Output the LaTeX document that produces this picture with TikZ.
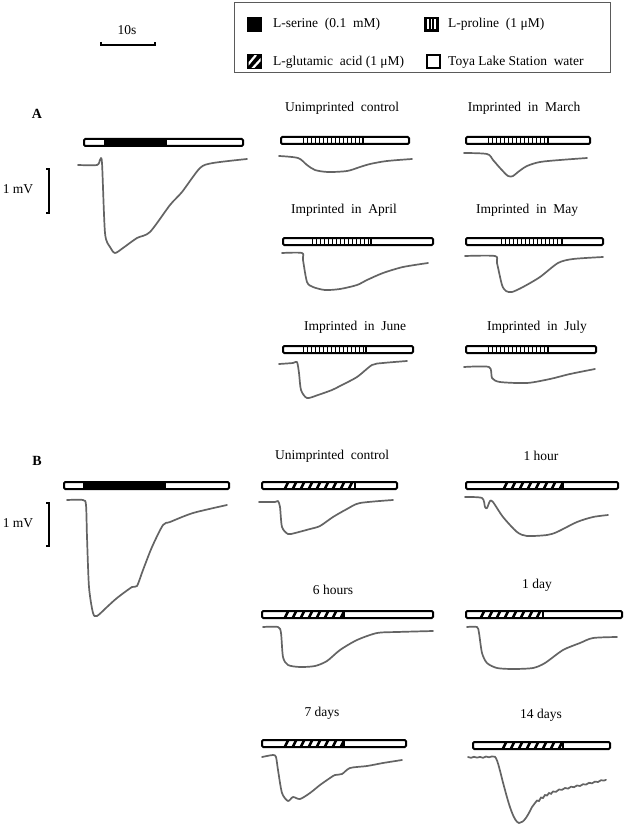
\documentclass[tikz,border=0pt]{standalone}
\usepackage{fontspec}
\setmainfont{Liberation Serif}
\usetikzlibrary{calc}
\definecolor{trace}{RGB}{100,100,100}
\definecolor{boxgray}{RGB}{90,90,90}
\tikzset{
  lbl/.style={inner sep=0pt, font=\fontsize{13.5}{15}\selectfont},
  plabel/.style={inner sep=0pt, font=\fontsize{14}{16}\selectfont\bfseries},
  tr/.style={draw=trace, line width=1.7, line join=round, line cap=round},
  barline/.style={draw=black, line width=2, rounded corners=1.2},
  scalebar/.style={draw=black, line width=1.3},
}
% \stimbar{x1}{x2}{ytop}{s1}{s2}{kind: 1 serine, 2 proline, 3 glutamic}
\newcommand{\stimbar}[6]{%
  \fill[white] (#1,#3) rectangle (#2,#3+7);
  \ifnum#6=1
    \fill[black] (#4,#3) rectangle (#5,#3+7);
  \fi
  \ifnum#6=2
    \begin{scope}
      \clip (#4,#3) rectangle (#5,#3+7);
      \foreach \i in {0,...,20} {\draw[line width=1.7] (#4+1.5+\i*4,#3+1) -- (#4+1.5+\i*4,#3+6);}
    \end{scope}
    \draw[line width=2] (#5,#3) -- (#5,#3+7);
  \fi
  \ifnum#6=3
    \begin{scope}
      \clip (#4,#3) rectangle (#5,#3+7);
      \foreach \i in {0,...,12} {\draw[line width=2.6] (#4+2+\i*8,#3+6.5) -- (#4+5+\i*8,#3+0.5);}
    \end{scope}
    \draw[line width=1.5] (#5,#3) -- (#5,#3+7);
  \fi
  \draw[barline] (#1,#3) rectangle (#2,#3+7);
}
\begin{document}
\begin{tikzpicture}[x=1pt,y=-1pt]
\useasboundingbox (0,0) rectangle (629,829);
\fill[white] (0,0) rectangle (629,829);

% ---- scale bar 10 s
\node[lbl] (tens) at (127,30) {10s};
\coordinate (sbA) at (101,42);
\coordinate (sbB) at (155,42);
\draw[scalebar] (sbA) -- ++(0,3) -- ($(sbB)+(0,3)$) -- (sbB);

% ---- legend
\draw[boxgray, line width=1] (234,3) rectangle (610,73);
\fill[black] (247,17) rectangle (262,32);
\node[lbl, anchor=west] (lser) at (273,24) {L-serine\enspace(0.1\enspace mM)};
\begin{scope}
  \fill[black] (424,17) rectangle (439,32);
  \foreach \xx in {428,431.5,435} {\draw[white, line width=1.1] (\xx,19.5) -- (\xx,29.5);}
\end{scope}
\node[lbl, anchor=west] (lpro) at (448,24) {L-proline\enspace(1 μM)};
\begin{scope}
  \fill[black] (247,54) rectangle (262,69);
  \clip (248.5,55.5) rectangle (260.5,67.5);
  \draw[white, line width=2.2] (246,67) -- (256,55);
  \draw[white, line width=2.2] (252,69) -- (263,57);
\end{scope}
\node[lbl, anchor=west] (lglu) at (273,62) {L-glutamic\enspace acid (1 μM)};
\draw[black, line width=2.2, fill=white] (427,55) rectangle (440,68);
\node[lbl, anchor=west] (lwat) at (448,62) {Toya Lake Station\enspace water};

% ================= Panel A
\node[plabel] (A) at (37,114) {A};
\stimbar{84}{243}{139}{104}{167}{1}
\draw[tr] plot[smooth, tension=0.45] coordinates {(78,165) (97,165) (100,160) (102,163) (105,233) (110,247) (115,253) (123,248) (137,238) (150,232) (170,205) (182,192) (200,168) (213,163) (247,159)};
\coordinate (mva1) at (46,169);
\coordinate (mva2) at (46,213);
\draw[scalebar] (mva1) -- ++(3,0) -- ($(mva2)+(3,0)$) -- (mva2);
\node[lbl] (mvA) at (18,189) {1 mV};

\node[lbl] (a1) at (342,108) {Unimprinted\enspace control};
\stimbar{281}{409}{137}{302}{363}{2}
\draw[tr] plot[smooth, tension=0.5] coordinates {(279,156) (298,158) (307,165) (315,170) (328,172) (347,171) (360,167) (370,164) (387,161) (412,159)};

\node[lbl] (a2) at (524,108) {Imprinted\enspace in\enspace March};
\stimbar{466}{590}{137}{487}{548}{2}
\draw[tr] plot[smooth, tension=0.5] coordinates {(464,153) (487,154) (493,160) (500,168) (508,176) (513,176) (518,172) (527,166) (540,162) (560,160) (587,158)};

\node[lbl] (a3) at (344,210) {Imprinted\enspace in\enspace April};
\stimbar{283}{433}{238}{311}{371}{2}
\draw[tr] plot[smooth, tension=0.45] coordinates {(282,253) (302,253) (303,260) (307,282) (313,287) (325,290) (340,289) (357,285) (367,280) (383,273) (403,267) (428,263)};

\node[lbl] (a4) at (527,210) {Imprinted\enspace in\enspace May};
\stimbar{466}{603}{238}{500}{562}{2}
\draw[tr] plot[smooth, tension=0.45] coordinates {(465,256) (495,256) (497,263) (502,285) (506,291) (512,292) (523,287) (540,277) (558,263) (573,259) (603,257)};

\node[lbl] (a5) at (355,327) {Imprinted\enspace in\enspace June};
\stimbar{283}{413}{346}{302}{366}{2}
\draw[tr] plot[smooth, tension=0.45] coordinates {(279,364) (293,363) (297,362) (299,373) (301,390) (307,398) (318,395) (332,390) (340,386) (357,377) (372,365) (383,363) (407,361)};

\node[lbl] (a6) at (537,327) {Imprinted\enspace in\enspace July};
\stimbar{466}{596}{346}{487}{548}{2}
\draw[tr] plot[smooth, tension=0.45] coordinates {(464,367) (489,367) (492,378) (500,382) (527,383) (550,379) (570,374) (595,369)};

% ================= Panel B
\node[plabel] (B) at (37,461) {B};
\stimbar{64}{229}{482}{83}{166}{1}
\draw[tr] plot[smooth, tension=0.45] coordinates {(67,500) (83,500) (86,505) (87,537) (89,587) (93,613) (97,616) (107,607) (117,598) (132,587) (137,586) (143,570) (152,547) (163,525) (170,522) (193,513) (227,505)};
\coordinate (mvb1) at (46,503);
\coordinate (mvb2) at (46,546);
\draw[scalebar] (mvb1) -- ++(3,0) -- ($(mvb2)+(3,0)$) -- (mvb2);
\node[lbl] (mvB) at (18,523) {1 mV};

\node[lbl] (b1) at (332,456) {Unimprinted\enspace control};
\stimbar{262}{397}{482}{283}{355}{3}
\draw[tr] plot[smooth, tension=0.45] coordinates {(259,502) (275,502) (278,501) (280,507) (282,527) (288,534) (295,533) (310,529) (320,526) (333,517) (347,509) (360,503) (393,500)};

\node[lbl] (b2) at (541,456) {1 hour};
\stimbar{466}{618}{482}{502}{563}{3}
\draw[tr] plot[smooth, tension=0.45] coordinates {(465,497) (482,498) (485,507) (487,508) (490,501) (493,502) (503,517) (517,532) (527,536) (547,535) (557,532) (577,522) (593,517) (608,515)};

\node[lbl] (b3) at (333,590) {6 hours};
\stimbar{262}{433}{611}{283}{344}{3}
\draw[tr] plot[smooth, tension=0.45] coordinates {(263,627) (278,627) (281,633) (283,657) (288,665) (300,667) (315,666) (327,661) (340,650) (357,640) (377,633) (397,632) (433,631)};

\node[lbl] (b4) at (537,585) {1 day};
\stimbar{466}{622}{611}{479}{543}{3}
\draw[tr] plot[smooth, tension=0.45] coordinates {(467,627) (477,627) (479,633) (482,653) (487,663) (497,668) (513,669) (533,668) (545,663) (563,650) (580,643) (593,638) (617,637)};

\node[lbl] (b5) at (322,713) {7 days};
\stimbar{262}{406}{740}{283}{344}{3}
\draw[tr] plot[smooth, tension=0.45] coordinates {(262,757) (273,755) (276,757) (278,770) (282,793) (288,801) (293,797) (300,799) (310,793) (320,785) (330,778) (335,775) (342,774) (350,768) (367,766) (383,763) (402,760)};

\node[lbl] (b6) at (541,715) {14 days};
\stimbar{473}{610}{742}{501}{563}{3}
\draw[tr, line join=miter] (468,757) -- (471,757.8) -- (474,756.8) -- (477,757.6) -- (480,756.9) -- (483,757.8) -- (486,756.5) -- (489,757.3) -- (492,756.4) -- (495,756.8)
  .. controls (498,760) and (500,772) .. (505,790)
  .. controls (509,805) and (514,822) .. (519,823)
  .. controls (524,823) and (528,815) .. (532,807)
  -- (535,803) -- (537,800.5) -- (539,801) -- (541,797.5) -- (543,798) -- (545,795) -- (547,795.5) -- (549,793) -- (551,793.8) -- (553,791.5) -- (556,791.8) -- (559,789.5) -- (562,789.8) -- (565,788) -- (568,788.6) -- (571,786.7) -- (574,787.2) -- (577,785.5) -- (580,786) -- (583,784.2) -- (586,784.6) -- (589,782.8) -- (592,783.3) -- (595,781.6) -- (598,782) -- (601,780.2) -- (604,780.6) -- (606,779.8);
\end{tikzpicture}
\end{document}
